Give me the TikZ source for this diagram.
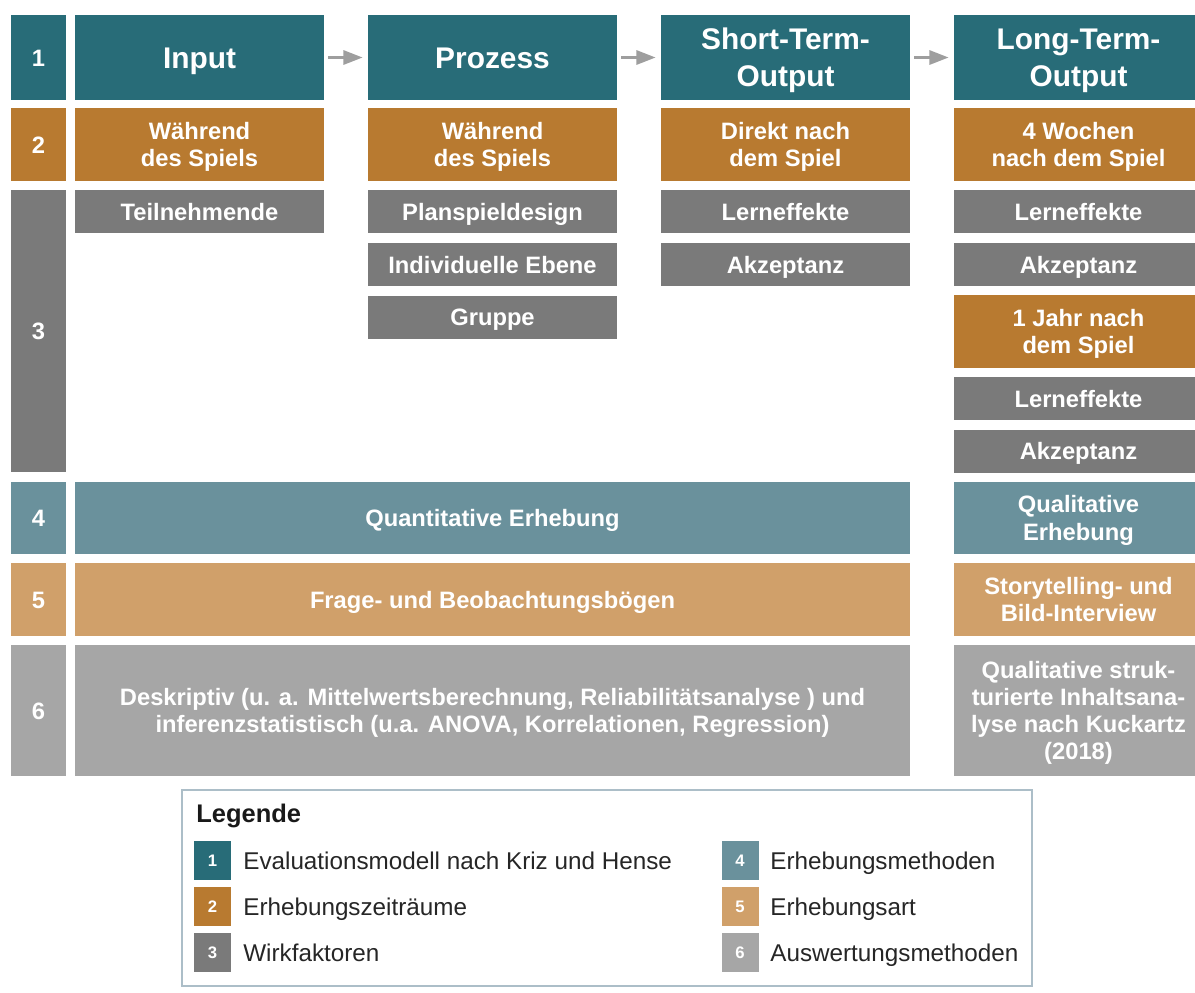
\documentclass[tikz,border=0pt]{standalone}
\usepackage{fontspec}
\setmainfont{Liberation Sans}
\usetikzlibrary{arrows.meta}

\definecolor{tealdunkel}{RGB}{40,108,120}
\definecolor{orangedunkel}{RGB}{184,122,48}
\definecolor{graudunkel}{RGB}{122,122,122}
\definecolor{teallicht}{RGB}{106,145,156}
\definecolor{orangelicht}{RGB}{208,160,106}
\definecolor{graulicht}{RGB}{166,166,166}
\definecolor{pfeilgrau}{RGB}{158,158,158}
\definecolor{rahmenblau}{RGB}{172,190,200}

\tikzset{
	box/.style 2 args = {minimum width = #1*0.02cm, minimum height = #2*0.02cm, inner sep = 0pt},
	feld/.style = {fill = #1, text = white, align = center, font = \bfseries\fontsize{13.5}{15.5}\selectfont, text height = 9.7pt, text depth = 0pt},
	zwei/.style = {text height = 25.2pt},
	vier/.style = {text height = 56.2pt},
	kopf/.style = {feld = tealdunkel, font = \bfseries\fontsize{17}{21}\selectfont, text height = 12.2pt},
	kopfzwei/.style = {kopf, text height = 33.2pt},
	pfeil/.style = {draw = pfeilgrau, line width = 1.7pt, -{Triangle[length = 11pt, width = 8pt]}, shorten < = 0.08cm, shorten > = 0.1cm},
	marke/.style = {fill = #1, text = white, box = {37}{39}, font = \bfseries\fontsize{9.5}{11}\selectfont, text height = 6.8pt, text depth = 0pt},
	legtext/.style = {anchor = west, inner sep = 0pt, text = black!85, font = \fontsize{13.8}{16}\selectfont, text height = 9.9pt, text depth = 0pt}
}

\begin{document}
\begin{tikzpicture}[x = 0.02cm, y = -0.02cm]
			\useasboundingbox (0,0) rectangle (1195,992);
			\clip (0,0) rectangle (1195,992);
			\fill [white] (0,0) rectangle (1195,992);

			% Zeile 1
			\node [feld = tealdunkel, box = {55}{85}] (n1) at (38.5,57.5) {1};
			\node [kopf, box = {249}{85}] (input) at (199.5,57.5) {Input};
			\node [kopf, box = {249}{85}] (prozess) at (492.5,57.5) {Prozess};
			\node [kopfzwei, box = {249}{85}] (short) at (785.5,57.5) {Short-Term-\\Output};
			\node [kopfzwei, box = {249}{85}] (long) at (1078.5,57.5) {Long-Term-\\Output};

			\draw [pfeil] (input) -- (prozess);
			\draw [pfeil] (prozess) -- (short);
			\draw [pfeil] (short) -- (long);

			% Zeile 2
			\node [feld = orangedunkel, box = {55}{73}] (n2) at (38.5,144.5) {2};
			\node [feld = orangedunkel, zwei, box = {249}{73}] (zeit1) at (199.5,144.5) {Während\\des Spiels};
			\node [feld = orangedunkel, zwei, box = {249}{73}] (zeit2) at (492.5,144.5) {Während\\des Spiels};
			\node [feld = orangedunkel, zwei, box = {249}{73}] (zeit3) at (785.5,144.5) {Direkt nach\\dem Spiel};
			\node [feld = orangedunkel, zwei, box = {249}{73}] (zeit4) at (1078.5,144.5) {4 Wochen\\nach dem Spiel};

			% Zeile 3
			\node [feld = graudunkel, box = {55}{282}] (n3) at (38.5,331) {3};
			\node [feld = graudunkel, box = {249}{43}] (teil) at (199.5,211.5) {Teilnehmende};
			\node [feld = graudunkel, box = {249}{43}] (design) at (492.5,211.5) {Planspieldesign};
			\node [feld = graudunkel, box = {249}{43}] (ebene) at (492.5,264.5) {Individuelle Ebene};
			\node [feld = graudunkel, box = {249}{43}] (gruppe) at (492.5,317) {Gruppe};
			\node [feld = graudunkel, box = {249}{43}] (lern1) at (785.5,211.5) {Lerneffekte};
			\node [feld = graudunkel, box = {249}{43}] (akz1) at (785.5,264.5) {Akzeptanz};
			\node [feld = graudunkel, box = {249}{43}] (lern2) at (1078.5,211.5) {Lerneffekte};
			\node [feld = graudunkel, box = {249}{43}] (akz2) at (1078.5,264.5) {Akzeptanz};
			\node [feld = orangedunkel, zwei, box = {249}{73}] (jahr) at (1078.5,331.5) {1 Jahr nach\\dem Spiel};
			\node [feld = graudunkel, box = {249}{43}] (lern3) at (1078.5,398.5) {Lerneffekte};
			\node [feld = graudunkel, box = {249}{43}] (akz3) at (1078.5,451) {Akzeptanz};

			% Zeilen 4 bis 6
			\node [feld = teallicht, box = {55}{72}] (n4) at (38.5,518) {4};
			\node [feld = teallicht, box = {835}{72}] (quant) at (492.5,518) {Quantitative Erhebung};
			\node [feld = teallicht, zwei, box = {249}{72}] (qual) at (1078.5,518) {Qualitative\\Erhebung};

			\node [feld = orangelicht, box = {55}{73}] (n5) at (38.5,599.5) {5};
			\node [feld = orangelicht, box = {835}{73}] (boegen) at (492.5,599.5) {Frage- und Beobachtungsbögen};
			\node [feld = orangelicht, zwei, box = {249}{73}] (story) at (1078.5,599.5) {Storytelling- und\\Bild-Interview};

			\node [feld = graulicht, box = {55}{131}] (n6) at (38.5,710.5) {6};
			\node [feld = graulicht, zwei, box = {835}{131}] (deskr) at (492.5,710.5) {Deskriptiv (u. a. Mittelwertsberechnung, Reliabilitätsanalyse ) und\\inferenzstatistisch (u.a. ANOVA, Korrelationen, Regression)};
			\node [feld = graulicht, vier, box = {249}{131}] (analyse) at (1078.5,710.5) {Qualitative struk-\\turierte Inhaltsana-\\lyse nach Kuckartz\\(2018)};

			% Legende
			\node [draw = rahmenblau, line width = 0.8pt, fill = white, box = {850}{196}] (legende) at (607,888) {};
			\node [anchor = base west, inner sep = 0pt, text = black!90, font = \bfseries\fontsize{14.5}{17}\selectfont] (legtitel) at (196,822) {Legende};

			\foreach \nr/\farbe/\txt [count = \i] in {1/tealdunkel/Evaluationsmodell nach Kriz und Hense, 2/orangedunkel/Erhebungszeiträume, 3/graudunkel/Wirkfaktoren}
			{
				\node [marke = \farbe] (m\nr) at (212.5,814.5+46*\i) {\nr};
				\node [legtext] (t\nr) at (243,814.5+46*\i) {\txt};
			}

			\foreach \nr/\farbe/\txt [count = \i] in {4/teallicht/Erhebungsmethoden, 5/orangelicht/Erhebungsart, 6/graulicht/Auswertungsmethoden}
			{
				\node [marke = \farbe] (m\nr) at (740,814.5+46*\i) {\nr};
				\node [legtext] (t\nr) at (770,814.5+46*\i) {\txt};
			}
		\end{tikzpicture}
\end{document}
